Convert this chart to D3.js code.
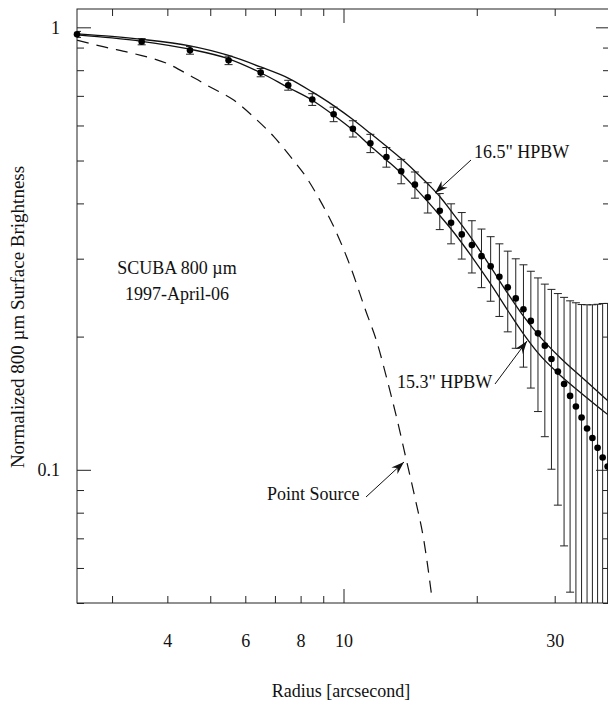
<!DOCTYPE html>
<html>
<head>
<meta charset="utf-8">
<script src="https://cdn.jsdelivr.net/npm/d3@7"></script>
<style>
  html, body { margin: 0; padding: 0; background: #fff; }
  svg { display: block; }
  text { font-family: "Liberation Serif", "Times New Roman", serif; fill: #111; }
</style>
</head>
<body>
<svg id="chart" width="608" height="706"></svg>
<script>
// ---------------- data ----------------
const radius = [2.5, 3.5, 4.5, 5.5, 6.5, 7.5, 8.5, 9.5, 10.5, 11.5, 12.5, 13.5, 14.5, 15.5,
  16.5, 17.5, 18.5, 19.5, 20.5, 21.5, 22.5, 23.5, 24.5, 25.5, 26.5, 27.5, 28.5, 29.5,
  30.5, 31.5, 32.5, 33.5, 34.5, 35.5, 36.5, 37.5, 38.5, 39.5];
const brightness = [0.964, 0.928, 0.887, 0.842, 0.790, 0.740, 0.687, 0.636, 0.590, 0.547,
  0.509, 0.473, 0.441, 0.413, 0.385, 0.3616, 0.3404, 0.322, 0.304, 0.2884, 0.2731, 0.2585,
  0.244, 0.2306, 0.217, 0.2034, 0.1908, 0.178, 0.1667, 0.1563, 0.1469, 0.139, 0.1313,
  0.124, 0.118, 0.1121, 0.1066, 0.1017];
const errors = [0.015, 0.015, 0.0175, 0.0185, 0.017, 0.019, 0.021, 0.024, 0.025, 0.026,
  0.026, 0.030, 0.030, 0.0325, 0.036, 0.0375, 0.041, 0.0435, 0.046, 0.048, 0.051, 0.0535,
  0.0558, 0.060, 0.064, 0.068, 0.072, 0.0777, 0.0835, 0.089, 0.094, 0.0995, 0.105,
  0.112, 0.118, 0.1245, 0.131, 0.136];

const modelRadius = [2.5, 3, 3.5, 4.5, 5.5, 6.5, 7.5, 8.5, 9.5, 10.5, 11.5, 12.5, 13.5, 14.5,
  15.5, 16.5, 17.5, 19.5, 21.5, 23.5, 25.5, 27.5, 31, 35, 40];
const beam165 = [0.9668, 0.9538, 0.9395, 0.9078, 0.8636, 0.8135, 0.7679, 0.7145, 0.6653,
  0.6189, 0.5759, 0.5382, 0.5052, 0.4730, 0.4430, 0.4146, 0.3845, 0.3327, 0.2874, 0.2504,
  0.2225, 0.2024, 0.1784, 0.1599, 0.1418];
const beam153 = [0.9618, 0.9464, 0.9298, 0.8924, 0.8489, 0.7895, 0.7312, 0.6843, 0.6331,
  0.5859, 0.5393, 0.5016, 0.4681, 0.4342, 0.4036, 0.3756, 0.3501, 0.3030, 0.2630, 0.2291,
  0.2028, 0.1837, 0.1630, 0.1471, 0.1321];

const pointRadius = [2.5, 2.88, 3.36, 4.0, 4.51, 5.01, 5.66, 6.27, 6.96, 7.59, 8.28, 8.8,
  9.51, 10.37, 11.21, 11.92, 12.55, 13.22, 13.92, 14.54, 15.18, 15.86];
const pointSource = [0.935, 0.903, 0.872, 0.828, 0.777, 0.732, 0.684, 0.627, 0.566, 0.510,
  0.455, 0.4106, 0.354, 0.2876, 0.2297, 0.1932, 0.1596, 0.1297, 0.1035, 0.0855, 0.0695, 0.0509];

const xTickLabels = [4, 6, 8, 10, 30];
const xMinorTicks = [3, 4, 5, 6, 7, 8, 9, 20, 30, 40];
const xMajorTicks = [10];
const yTickLabels = [0.1, 1];
const yMinorTicks = [0.05, 0.06, 0.07, 0.08, 0.09, 0.2, 0.3, 0.4, 0.5, 0.6, 0.7, 0.8, 0.9];
const yMajorTicks = [0.1, 1];

// ---------------- layout ----------------
const svg = d3.select("#chart");
const L = 77, R = 610, T = 9, B = 603;
const x = d3.scaleLog().domain([2.5, 40]).range([L, R]);
const y = d3.scaleLog().domain([0.05, 1.1]).range([B, T]);
const FS = 18;

svg.append("defs").append("clipPath").attr("id", "plotclip")
  .append("rect").attr("x", L).attr("y", T).attr("width", R - L).attr("height", B - T);

// frame
svg.append("rect").attr("x", L).attr("y", T).attr("width", R - L).attr("height", B - T)
  .attr("fill", "none").attr("stroke", "#222").attr("stroke-width", 1);

function tickAxis(axis, tx, ty) {
  const g = svg.append("g").attr("transform", `translate(${tx},${ty})`).call(axis);
  g.select(".domain").remove();
  g.selectAll("line").attr("stroke", "#222").attr("stroke-width", 1);
  return g;
}
// bottom ticks (inward)
tickAxis(d3.axisTop(x).tickValues(xMinorTicks).tickSize(7).tickFormat(""), 0, B);
tickAxis(d3.axisTop(x).tickValues(xMajorTicks).tickSize(14).tickFormat(""), 0, B);
// top ticks (inward)
tickAxis(d3.axisBottom(x).tickValues(xMinorTicks).tickSize(7).tickFormat(""), 0, T);
tickAxis(d3.axisBottom(x).tickValues(xMajorTicks).tickSize(14).tickFormat(""), 0, T);
// left ticks
tickAxis(d3.axisRight(y).tickValues(yMinorTicks).tickSize(7).tickFormat(""), L, 0);
tickAxis(d3.axisRight(y).tickValues(yMajorTicks).tickSize(14).tickFormat(""), L, 0);
// right ticks
tickAxis(d3.axisLeft(y).tickValues(yMinorTicks).tickSize(7).tickFormat(""), R, 0);
tickAxis(d3.axisLeft(y).tickValues(yMajorTicks).tickSize(14).tickFormat(""), R, 0);

// labels
const xl = svg.append("g").attr("transform", `translate(0,${B})`)
  .call(d3.axisBottom(x).tickValues(xTickLabels).tickSize(0).tickPadding(31).tickFormat(d3.format("d")));
xl.select(".domain").remove();
xl.selectAll("text").style("font-family", '"Liberation Serif", serif').style("font-size", FS + "px").attr("fill", "#111");

const yl = svg.append("g").attr("transform", `translate(${L},0)`)
  .call(d3.axisLeft(y).tickValues(yTickLabels).tickSize(0).tickPadding(17).tickFormat(d => d === 1 ? "1" : "0.1"));
yl.select(".domain").remove();
yl.selectAll("text").style("font-family", '"Liberation Serif", serif').style("font-size", FS + "px").attr("fill", "#111");

svg.append("text").attr("x", 341).attr("y", 697).attr("text-anchor", "middle")
  .style("font-size", FS + "px").text("Radius [arcsecond]");
svg.append("text").attr("transform", "translate(24,317) rotate(-90)").attr("text-anchor", "middle")
  .style("font-size", "19px").text("Normalized 800 µm Surface Brightness");

// ---------------- marks ----------------
const plot = svg.append("g").attr("clip-path", "url(#plotclip)");

const line = d3.line().curve(d3.curveMonotoneX);
const toPts = (rs, vs) => rs.map((r, i) => [x(r), y(vs[i])]);

plot.append("path").attr("d", line(toPts(pointRadius, pointSource)))
  .attr("fill", "none").attr("stroke", "#111").attr("stroke-width", 1.2).attr("stroke-dasharray", "12,8");
plot.append("path").attr("d", line(toPts(modelRadius, beam165)))
  .attr("fill", "none").attr("stroke", "#111").attr("stroke-width", 1.3);
plot.append("path").attr("d", line(toPts(modelRadius, beam153)))
  .attr("fill", "none").attr("stroke", "#111").attr("stroke-width", 1.3);

// error bars
const eb = plot.append("g").attr("stroke", "#222").attr("stroke-width", 1);
radius.forEach((r, i) => {
  const cx = x(r);
  const yTop = y(brightness[i] + errors[i]);
  const low = brightness[i] - errors[i];
  const yBot = low > 0 ? y(low) : B + 50;
  eb.append("line").attr("x1", cx).attr("x2", cx).attr("y1", yTop).attr("y2", yBot);
  eb.append("line").attr("x1", cx - 4).attr("x2", cx + 4).attr("y1", yTop).attr("y2", yTop);
  eb.append("line").attr("x1", cx - 4).attr("x2", cx + 4).attr("y1", yBot).attr("y2", yBot);
});

// points
svg.append("g").selectAll("circle").data(radius).join("circle")
  .attr("cx", d => x(d)).attr("cy", (d, i) => y(brightness[i])).attr("r", 3.3).attr("fill", "#000");

// ---------------- annotations ----------------
function arrow(x1, y1, x2, y2) {
  svg.append("line").attr("x1", x1).attr("y1", y1).attr("x2", x2).attr("y2", y2)
    .attr("stroke", "#111").attr("stroke-width", 1);
  const a = Math.atan2(y2 - y1, x2 - x1);
  const len = 13, w = 4.5, notch = 9;
  const bx = x2 - len * Math.cos(a), by = y2 - len * Math.sin(a);
  const nx = x2 - notch * Math.cos(a), ny = y2 - notch * Math.sin(a);
  const px = -Math.sin(a), py = Math.cos(a);
  const pts = [[x2, y2], [bx + w * px, by + w * py], [nx, ny], [bx - w * px, by - w * py]];
  svg.append("polygon").attr("points", pts.map(p => p.join(",")).join(" ")).attr("fill", "#111");
}

svg.append("text").attr("x", 177).attr("y", 274).attr("text-anchor", "middle")
  .style("font-size", FS + "px").text("SCUBA 800 µm");
svg.append("text").attr("x", 177).attr("y", 300).attr("text-anchor", "middle")
  .style("font-size", FS + "px").text("1997-April-06");

svg.append("text").attr("x", 474).attr("y", 158).style("font-size", FS + "px").text("16.5\" HPBW");
arrow(471, 160, 435, 193);
svg.append("text").attr("x", 397).attr("y", 388).style("font-size", FS + "px").text("15.3\" HPBW");
arrow(495, 384, 527, 341);
svg.append("text").attr("x", 267).attr("y", 500).style("font-size", FS + "px").text("Point Source");
arrow(366, 497, 404, 462);
</script>
</body>
</html>
